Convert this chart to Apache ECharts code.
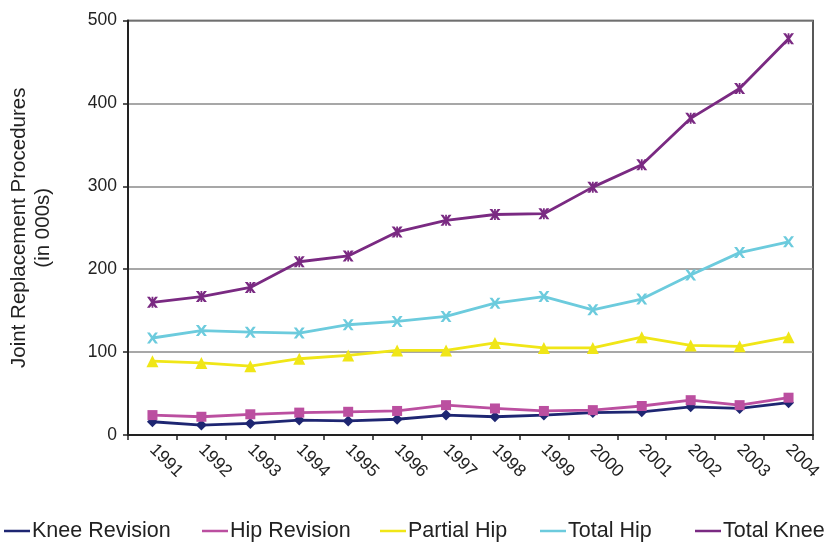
<!DOCTYPE html>
<html>
<head>
<meta charset="utf-8">
<script src="https://cdn.jsdelivr.net/npm/echarts@6/dist/echarts.min.js"></script>
<style>
html,body{margin:0;padding:0;background:#fff;}
#chart{width:826px;height:542px;}
</style>
</head>
<body>
<div id="chart"></div>
<script>
const years = ['1991','1992','1993','1994','1995','1996','1997','1998','1999','2000','2001','2002','2003','2004'];
const kneeRevision = [16, 12, 14, 18, 17, 19, 24, 22, 24, 27, 28, 34, 32, 39];
const hipRevision  = [24, 22, 25, 27, 28, 29, 36, 32, 29, 30, 35, 42, 36, 45];
const partialHip   = [89, 87, 83, 92, 96, 102, 102, 111, 105, 105, 118, 108, 107, 118];
const totalHip     = [117, 126, 124, 123, 133, 137, 143, 159, 167, 151, 164, 193, 220, 233];
const totalKnee    = [160, 167, 178, 209, 216, 245, 259, 266, 267, 299, 326, 382, 418, 478];
const yTicks = [0, 100, 200, 300, 400, 500];

const FONT = '"Liberation Sans", Arial, Helvetica, sans-serif';
const colors = {
  'Knee Revision': '#1e2672',
  'Hip Revision': '#bb4fa0',
  'Partial Hip': '#f0e617',
  'Total Hip': '#6ccbdd',
  'Total Knee': '#7a2a82'
};
const xSym = 'path://M0,0 L2.6,0 L5,3.2 L7.4,0 L10,0 L6.4,5 L10,10 L7.4,10 L5,6.8 L2.6,10 L0,10 L3.6,5 Z';
const starSym = 'path://M0,0 L2.6,0 L4.2,2.2 L4.2,0 L5.8,0 L5.8,2.2 L7.4,0 L10,0 L6.4,5 L10,10 L7.4,10 L5.8,7.8 L5.8,10 L4.2,10 L4.2,7.8 L2.6,10 L0,10 L3.6,5 Z';

function mkSeries(name, data, symbol, size) {
  return {
    name: name, type: 'line', data: data,
    symbol: symbol, symbolSize: size, showSymbol: true,
    lineStyle: { color: colors[name], width: 2.8 },
    itemStyle: { color: colors[name] },
    z: 3
  };
}

const legendPos = [['Knee Revision', 4], ['Hip Revision', 202], ['Partial Hip', 380], ['Total Hip', 540], ['Total Knee', 695]];
const legends = legendPos.map(function (p) {
  return {
    data: [p[0]], left: p[1], top: 520, orient: 'horizontal', padding: 0,
    icon: 'rect', itemWidth: 26, itemHeight: 2.5, itemGap: 0,
    textStyle: { fontFamily: FONT, fontSize: 21.5, color: '#222', padding: [0, 0, 0, -3] },
    selectedMode: false
  };
});

const chart = echarts.init(document.getElementById('chart'), null, { renderer: 'canvas' });
chart.setOption({
  animation: false,
  backgroundColor: '#ffffff',
  color: Object.values(colors),
  legend: legends,
  grid: { left: 128, right: 13, top: 20.5, bottom: 107, show: true, borderColor: '#222', borderWidth: 1.5,
    containLabel: false, outerBoundsMode: 'none' },
  xAxis: {
    type: 'category', data: years, boundaryGap: true,
    axisLine: { lineStyle: { color: '#222', width: 2 } },
    axisTick: { show: true, length: 5, lineStyle: { color: '#222', width: 1.5 }, alignWithLabel: false },
    axisLabel: { rotate: -45, interval: 0, margin: 12, fontFamily: FONT, fontSize: 17.5, color: '#222' },
    splitLine: { show: false }
  },
  yAxis: {
    type: 'value', min: 0, max: 500, interval: 100,
    name: 'Joint Replacement Procedures\n(in 000s)',
    nameLocation: 'middle', nameGap: 73, nameRotate: 90,
    nameTextStyle: { fontFamily: FONT, fontSize: 20.5, color: '#222', lineHeight: 24 },
    axisLine: { show: true, lineStyle: { color: '#222', width: 2 } },
    axisTick: { show: true, length: 5, lineStyle: { color: '#222', width: 1.5 } },
    axisLabel: { margin: 11, fontFamily: FONT, fontSize: 17.5, color: '#222',
      formatter: function (v) { return yTicks.indexOf(v) >= 0 ? String(v) : ''; } },
    splitLine: { show: true, lineStyle: { color: '#8a8a8a', width: 1.5 } }
  },
  series: [
    mkSeries('Knee Revision', kneeRevision, 'diamond', 11),
    mkSeries('Hip Revision', hipRevision, 'rect', 10),
    mkSeries('Partial Hip', partialHip, 'triangle', 12),
    mkSeries('Total Hip', totalHip, xSym, 11),
    mkSeries('Total Knee', totalKnee, starSym, 11)
  ]
});
</script>
</body>
</html>
